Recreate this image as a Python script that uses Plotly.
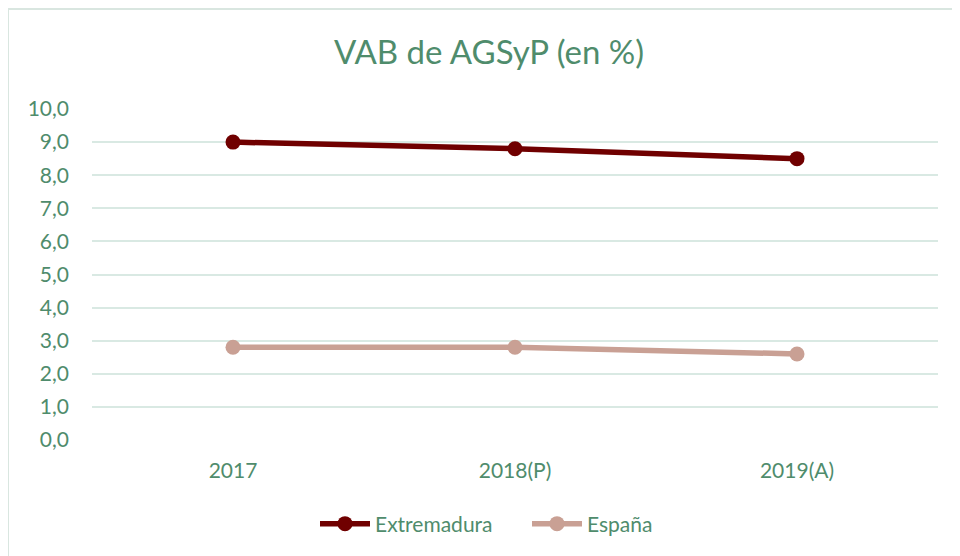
import plotly.graph_objects as go

categories = ["2017", "2018(P)", "2019(A)"]
extremadura = [9.0, 8.8, 8.5]
espana = [2.8, 2.8, 2.6]
y_ticks = [0, 1, 2, 3, 4, 5, 6, 7, 8, 9, 10]

green = "#4f8c6c"
grid = "#d9e9e3"
font = "Lato, 'Open Sans', sans-serif"

fig = go.Figure()
fig.add_trace(go.Scatter(x=categories, y=extremadura, name="Extremadura", mode="lines+markers",
                         line=dict(color="#700000", width=5.5), marker=dict(size=15, color="#700000")))
fig.add_trace(go.Scatter(x=categories, y=espana, name="España", mode="lines+markers",
                         line=dict(color="#c9a094", width=5.5), marker=dict(size=15, color="#c9a094")))

# page body has an 8px margin; figure coords = screen coords - 8
W, H = 952, 548
L, R, T, B = 84, 22, 101, 116
pw, ph = W - L - R, H - T - B

def px(x):
    return (x - L) / pw

def py(y):
    return (H - B - y) / ph

fig.update_layout(
    width=W, height=H,
    margin=dict(l=L, r=R, t=T, b=B),
    paper_bgcolor="white", plot_bgcolor="white",
    separators=",.",
    font=dict(family=font, color=green, size=21),
    title=dict(text="VAB de AGSyP (en %)", x=481 / W, xanchor="center", y=1 - 44 / H, yanchor="middle",
               font=dict(size=33, color=green, family=font)),
    xaxis=dict(type="category", range=[-0.5, 2.5], showgrid=False, zeroline=False,
               showline=False, ticks="", ticklabelstandoff=16, tickfont=dict(size=21, color=green)),
    yaxis=dict(range=[0, 10], tickvals=y_ticks, tickformat=".1f", showgrid=True, gridcolor=grid,
               gridwidth=1.5, zeroline=False, showline=False, ticks="", ticklabelstandoff=22,
               tickfont=dict(size=21, color=green)),
    legend=dict(orientation="h", x=px(307), xanchor="left", y=py(516), yanchor="middle",
                font=dict(size=21, color=green), traceorder="normal",
                itemwidth=50, entrywidth=147, entrywidthmode="pixels"),
    showlegend=True,
    shapes=[
        dict(type="line", xref="paper", yref="paper", x0=px(0), x1=px(0), y0=py(H), y1=py(1),
             line=dict(color="#d9e6e0", width=2)),
        dict(type="line", xref="paper", yref="paper", x0=px(0), x1=px(W), y0=py(1), y1=py(1),
             line=dict(color="#d9e6e0", width=2)),
    ],
)

fig.write_html("out.html")
